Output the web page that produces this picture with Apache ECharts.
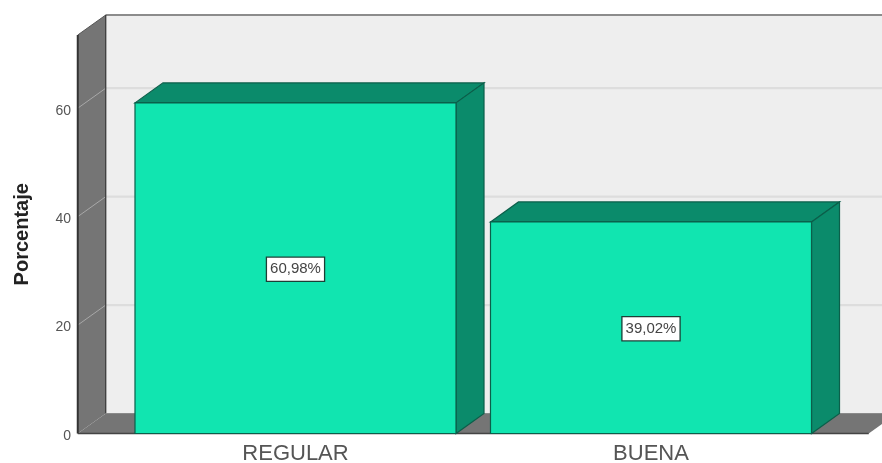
<!DOCTYPE html>
<html><head><meta charset="utf-8">
<style>html,body{margin:0;padding:0;background:#fff}#c{width:882px;height:463px;filter:blur(0.6px)}</style>
<script src="https://cdn.jsdelivr.net/npm/echarts@6/dist/echarts.min.js"></script>
</head><body><div id="c"></div>
<script>
const categories = ['REGULAR', 'BUENA'];
const percentages = [60.98, 39.02];
const valueLabels = ['60,98%', '39,02%'];
const gridTicks = [20, 40, 60];
const axisTitle = 'Porcentaje';

const DX = 28, DY = -20, SIDE = 40;
const chart = echarts.init(document.getElementById('c'), null, {renderer: 'canvas'});

function poly(points, fill, stroke, lw) {
  return {type: 'polygon', shape: {points}, style: {fill, stroke: stroke || null, lineWidth: lw || 0}};
}
function line(x1, y1, x2, y2, stroke, lw) {
  return {type: 'line', shape: {x1, y1, x2, y2}, style: {stroke, lineWidth: lw}};
}
function renderFrame(params, api) {
  const g = params.coordSys;
  const L = g.x - SIDE, R = g.x + g.width + SIDE, T = g.y, B = g.y + g.height;
  const kids = [
    poly([[L + DX, T + DY], [R + DX + 20, T + DY], [R + DX + 20, B + DY], [L + DX, B + DY]], '#eeeeee'),
    poly([[L, T], [L + DX, T + DY], [L + DX, B + DY], [L, B]], '#757575'),
    poly([[L, B], [R, B], [R + DX, B + DY], [L + DX, B + DY]], '#757575')
  ];
  gridTicks.forEach(t => {
    const y = api.coord([0, t])[1];
    kids.push(line(L + DX, y + DY, R + DX, y + DY, '#dddddd', 2.2));
    kids.push(line(L, y, L + DX, y + DY, '#a8a8a8', 1));
  });
  kids.push(line(L + DX, T + DY, R + DX, T + DY, '#8c8c8c', 2));
  kids.push(line(L, T, L + DX, T + DY, '#555555', 1));
  kids.push(line(L + DX, T + DY, L + DX, B + DY, '#333333', 1.2));
  kids.push(line(L, T, L, B, '#333333', 2));
  kids.push(line(L, B, R, B, '#444444', 1.4));
  kids.push(line(L + DX, B + DY, R + DX, B + DY, '#8a8a8a', 1));
  return {type: 'group', children: kids};
}
function renderBar(params, api) {
  const p = api.coord([api.value(0), api.value(1)]);
  const base = api.coord([api.value(0), 0]);
  const w = api.size([1, 0])[0] * 0.903;
  const x0 = p[0] - w / 2, x1 = p[0] + w / 2, yT = p[1], yB = base[1];
  const mid = api.coord([api.value(0), api.value(1) / 2]);
  const edge = '#0b5f4a';
  return {type: 'group', children: [
    poly([[x0, yT], [x0 + DX, yT + DY], [x1 + DX, yT + DY], [x1, yT]], '#0b8b6b', edge, 1.2),
    poly([[x1, yT], [x1 + DX, yT + DY], [x1 + DX, yB + DY], [x1, yB]], '#0b8b6b', edge, 1.2),
    {type: 'rect', shape: {x: x0, y: yT, width: w, height: yB - yT},
     style: {fill: '#11e5b0', stroke: edge, lineWidth: 1.2}},
    {type: 'text', x: mid[0], y: mid[1] + 1, style: {
      text: valueLabels[params.dataIndex], fill: '#444444',
      font: '15px "Liberation Sans", Arial, sans-serif', align: 'center', verticalAlign: 'middle',
      backgroundColor: '#ffffff', borderColor: '#1c3f36', borderWidth: 1.3, padding: [4, 3, 4, 3]
    }}
  ]};
}

chart.setOption({
  animation: false,
  grid: {left: 117.75, width: 711, top: 35, bottom: 29.5, outerBoundsMode: 'none'},
  xAxis: {type: 'category', data: categories,
    axisLine: {show: false}, axisTick: {show: false}, splitLine: {show: false},
    axisLabel: {color: '#555555', fontSize: 22, margin: 9, fontFamily: '"Liberation Sans", Arial, sans-serif'}},
  yAxis: {type: 'value', min: 0, max: 73.5, interval: 20, offset: 39.75,
    name: axisTitle, nameLocation: 'middle', nameGap: 46,
    nameTextStyle: {color: '#222222', fontWeight: 'bold', fontSize: 20, fontFamily: '"Liberation Sans", Arial, sans-serif'},
    axisLine: {show: false}, axisTick: {show: false}, splitLine: {show: false},
    axisLabel: {color: '#555555', fontSize: 14, margin: 7, verticalAlign: 'top', lineHeight: 5, showMaxLabel: false, fontFamily: '"Liberation Sans", Arial, sans-serif'}},
  series: [
    {type: 'custom', silent: true, clip: false, z: 1, renderItem: renderFrame, data: [[0, 0]], encode: {x: 0, y: 1}},
    {type: 'custom', silent: true, clip: false, z: 2, renderItem: renderBar,
     data: categories.map((c, i) => [i, percentages[i]]), encode: {x: 0, y: 1}}
  ]
});
</script></body></html>
